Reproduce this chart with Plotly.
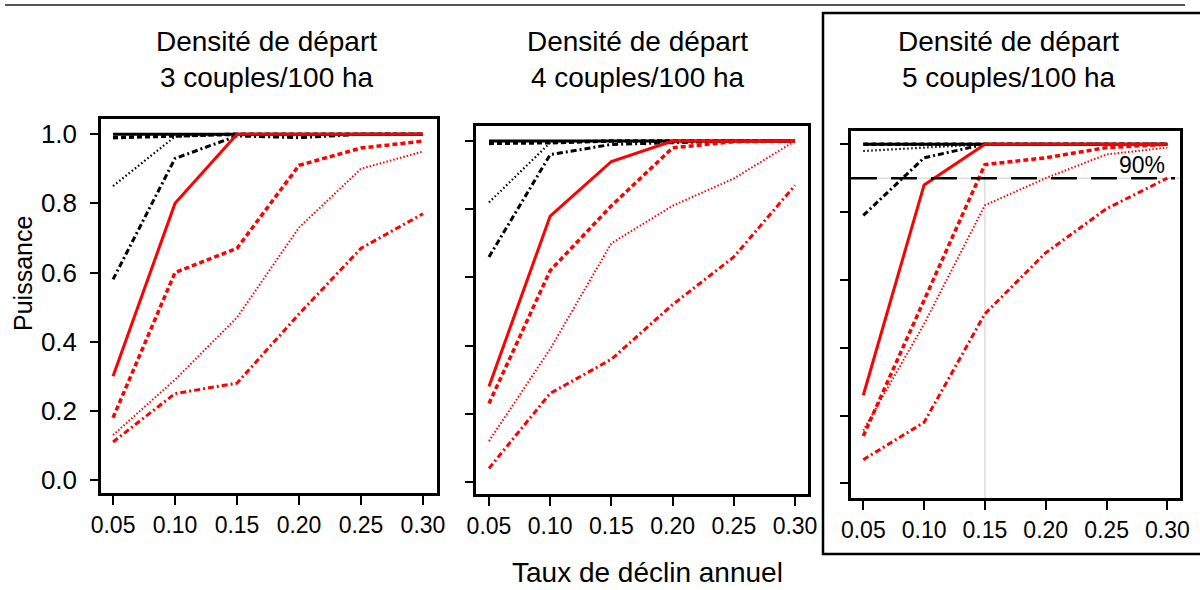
import plotly.graph_objects as go

W, H = 1200, 590

x_rates = [0.05, 0.10, 0.15, 0.20, 0.25, 0.30]
x_tick_labels = ["0.05", "0.10", "0.15", "0.20", "0.25", "0.30"]
y_tick_vals = [0.0, 0.2, 0.4, 0.6, 0.8, 1.0]
y_tick_labels = ["0.0", "0.2", "0.4", "0.6", "0.8", "1.0"]

titles = ["Densité de départ<br>3 couples/100 ha",
          "Densité de départ<br>4 couples/100 ha",
          "Densité de départ<br>5 couples/100 ha"]

# Panel 1 : 3 couples/100 ha
p1_black_solid = [1.0, 1.0, 1.0, 1.0, 1.0, 1.0]
p1_black_dash = [0.99, 0.995, 1.0, 1.0, 1.0, 1.0]
p1_black_dot = [0.85, 0.993, 1.0, 1.0, 1.0, 1.0]
p1_black_dashdot = [0.58, 0.93, 0.995, 0.99, 1.0, 1.0]
p1_red_solid = [0.30, 0.80, 1.0, 1.0, 1.0, 1.0]
p1_red_dash = [0.18, 0.60, 0.67, 0.91, 0.96, 0.98]
p1_red_dot = [0.13, 0.29, 0.47, 0.73, 0.90, 0.95]
p1_red_dashdot = [0.11, 0.25, 0.28, 0.48, 0.67, 0.77]

# Panel 2 : 4 couples/100 ha
p2_black_solid = [1.0, 1.0, 1.0, 1.0, 1.0, 1.0]
p2_black_dash = [0.993, 0.995, 1.0, 1.0, 1.0, 1.0]
p2_black_dot = [0.82, 0.995, 1.0, 1.0, 1.0, 1.0]
p2_black_dashdot = [0.66, 0.96, 0.99, 0.995, 1.0, 1.0]
p2_red_solid = [0.28, 0.78, 0.94, 1.0, 1.0, 1.0]
p2_red_dash = [0.23, 0.62, 0.81, 0.98, 0.998, 1.0]
p2_red_dot = [0.12, 0.39, 0.70, 0.81, 0.89, 1.0]
p2_red_dashdot = [0.04, 0.26, 0.36, 0.52, 0.66, 0.87]

# Panel 3 : 5 couples/100 ha
p3_black_solid = [1.0, 1.0, 1.0, 1.0, 1.0, 1.0]
p3_black_dash = [1.0, 1.0, 1.0, 1.0, 1.0, 1.0]
p3_black_dot = [0.98, 0.99, 1.0, 1.0, 1.0, 1.0]
p3_black_dashdot = [0.79, 0.96, 1.0, 1.0, 1.0, 1.0]
p3_red_solid = [0.26, 0.88, 1.0, 1.0, 1.0, 1.0]
p3_red_dash = [0.14, 0.54, 0.94, 0.96, 0.99, 1.0]
p3_red_dot = [0.156, 0.47, 0.82, 0.90, 0.97, 0.99]
p3_red_dashdot = [0.07, 0.18, 0.50, 0.68, 0.81, 0.90]

threshold = 0.90
threshold_label = "90%"

panels = [
    dict(series=[p1_black_solid, p1_black_dash, p1_black_dot, p1_black_dashdot,
                 p1_red_dashdot, p1_red_dot, p1_red_dash, p1_red_solid],
         box=(101, 437, 119, 493), xr=(0.0403, 0.3113), yr=(-0.0376, 1.044),
         title_x=266),
    dict(series=[p2_black_solid, p2_black_dash, p2_black_dot, p2_black_dashdot,
                 p2_red_dashdot, p2_red_dot, p2_red_dash, p2_red_solid],
         box=(476, 808, 126, 494), xr=(0.0394, 0.3106), yr=(-0.0352, 1.044),
         title_x=637),
    dict(series=[p3_black_solid, p3_black_dash, p3_black_dot, p3_black_dashdot,
                 p3_red_dashdot, p3_red_dot, p3_red_dash, p3_red_solid],
         box=(851, 1180, 131, 498), xr=(0.0399, 0.3104), yr=(-0.043, 1.039),
         title_x=1008),
]

styles = [
    dict(color="black", dash="solid", width=3),
    dict(color="black", dash="5px,3px", width=3.5),
    dict(color="black", dash="1.5px,2.5px", width=2.2),
    dict(color="black", dash="6px,3px,2px,3px", width=3),
    dict(color="#ff0000", dash="6px,3px,2px,3px", width=3),
    dict(color="#ff0000", dash="1.5px,2px", width=2),
    dict(color="#ff0000", dash="5px,3px", width=3.5),
    dict(color="#ff0000", dash="solid", width=3),
]

FONT = "Liberation Sans, Arial, sans-serif"
fig = go.Figure()
layout = dict(
    width=W, height=H, margin=dict(l=0, r=0, t=0, b=0, autoexpand=False),
    paper_bgcolor="white", plot_bgcolor="white", showlegend=False,
    font=dict(family=FONT, color="black"),
)

annotations = []
shapes = []

for i, p in enumerate(panels):
    n = "" if i == 0 else str(i + 1)
    xa, ya = "x" + n, "y" + n
    for s, st in zip(p["series"], styles):
        fig.add_trace(go.Scatter(x=x_rates, y=s, mode="lines", xaxis=xa, yaxis=ya,
                                 line=dict(color=st["color"], dash=st["dash"], width=st["width"]),
                                 hoverinfo="skip"))
    l, r, t, b = p["box"]
    layout["xaxis" + n] = dict(
        domain=[l / W, r / W], range=list(p["xr"]), anchor=ya, automargin=False,
        tickvals=x_rates, ticktext=x_tick_labels, ticks="outside", ticklen=9, tickwidth=2,
        tickcolor="black", showline=True, linecolor="black", linewidth=2.5, mirror=True,
        showgrid=False, zeroline=False, tickfont=dict(size=23, family=FONT),
        ticklabelstandoff=1,
    )
    layout["yaxis" + n] = dict(
        domain=[1 - b / H, 1 - t / H], range=list(p["yr"]), anchor=xa, automargin=False,
        tickvals=y_tick_vals, ticktext=y_tick_labels, ticks="outside", ticklen=8, tickwidth=2,
        tickcolor="black", showline=True, linecolor="black", linewidth=2.5, mirror=True,
        showgrid=False, zeroline=False, tickfont=dict(size=26, family=FONT),
        showticklabels=(i == 0), ticklabelstandoff=8,
    )
    annotations.append(dict(text=titles[i], x=p["title_x"] / W, y=1 - 60 / H,
                            xref="paper", yref="paper", showarrow=False, xanchor="center",
                            yanchor="middle", align="center",
                            font=dict(size=28, family=FONT, color="black")))

# Panel 3 reference lines (90% threshold and x = 0.15)
shapes.append(dict(type="line", xref="x3 domain", yref="y3", x0=0, x1=1, y0=threshold, y1=threshold,
                   line=dict(color="#cccccc", width=1), layer="below"))
shapes.append(dict(type="line", xref="x3", yref="y3 domain", x0=0.15, x1=0.15, y0=0, y1=0.905,
                   line=dict(color="#cccccc", width=1), layer="below"))
shapes.append(dict(type="line", xref="x3 domain", yref="y3", x0=0.0, x1=0.985, y0=threshold, y1=threshold,
                   line=dict(color="black", width=2.5, dash="26px,14px"), layer="above"))
annotations.append(dict(text=threshold_label, x=0.3, y=threshold, xref="x3", yref="y3",
                        showarrow=False, xanchor="right", yanchor="bottom", yshift=-2,
                        font=dict(size=23, family=FONT, color="black")))

# Outer box around panel 3 and top rule
shapes.append(dict(type="rect", xref="paper", yref="paper", x0=823 / W, x1=1.01,
                   y0=1 - 554 / H, y1=1 - 13 / H, line=dict(color="black", width=2.5),
                   fillcolor="rgba(0,0,0,0)", layer="above"))
shapes.append(dict(type="line", xref="paper", yref="paper", x0=5 / W, x1=1185 / W,
                   y0=1 - 5 / H, y1=1 - 5 / H, line=dict(color="#555555", width=2)))

# Axis titles
annotations.append(dict(text="Puissance", x=23 / W, y=1 - 274 / H, xref="paper", yref="paper",
                        showarrow=False, textangle=-90, xanchor="center", yanchor="middle",
                        font=dict(size=25, family=FONT, color="black")))
annotations.append(dict(text="Taux de déclin annuel", x=647 / W, y=0, xref="paper",
                        yref="paper", showarrow=False, xanchor="center", yanchor="bottom",
                        yshift=0,
                        font=dict(size=28, family=FONT, color="black")))

layout["annotations"] = annotations
layout["shapes"] = shapes
fig.update_layout(**layout)
fig.write_html("out.html", config={"displayModeBar": False},
               post_script="document.body.style.margin='0';document.body.style.overflow='hidden';")
